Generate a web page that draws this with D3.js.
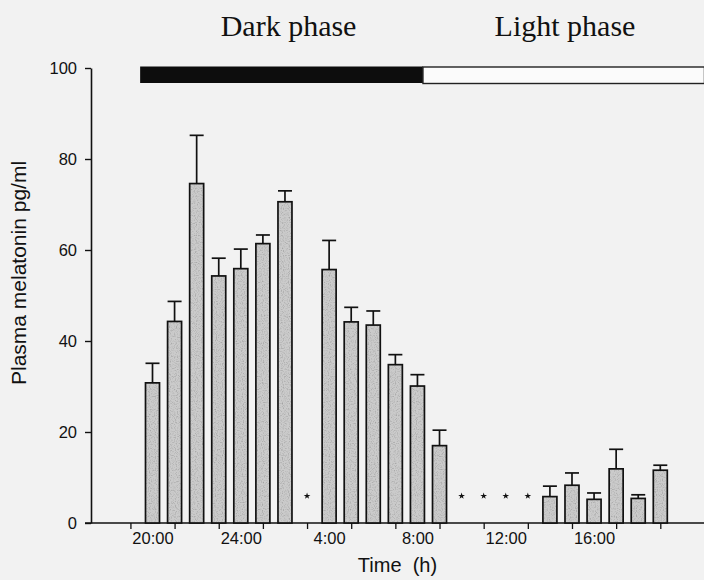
<!DOCTYPE html>
<html>
<head>
<meta charset="utf-8">
<script src="https://cdn.jsdelivr.net/npm/d3@7"></script>
<style>
  html, body { margin: 0; padding: 0; background: #f2f2f2; }
  svg { display: block; }
</style>
</head>
<body>
<div id="chart"></div>
<script>
// Hourly sampling slots, 20:00 through 19:00 the next day
const hours = ["20:00","21:00","22:00","23:00","24:00","1:00","2:00","3:00",
               "4:00","5:00","6:00","7:00","8:00","9:00","10:00","11:00",
               "12:00","13:00","14:00","15:00","16:00","17:00","18:00","19:00"];

// Mean plasma melatonin (pg/ml) per slot; null = below detection (marked with *)
const melatonin = [30.8, 44.3, 74.6, 54.3, 55.9, 61.4, 70.6, null,
                   55.7, 44.2, 43.5, 34.8, 30.1, 17.0, null, null,
                   null, null, 5.8, 8.3, 5.2, 11.9, 5.4, 11.6];

// Standard error of the mean for each slot
const sem = [4.3, 4.4, 10.6, 3.9, 4.3, 1.9, 2.4, null,
             6.4, 3.2, 3.1, 2.2, 2.5, 3.4, null, null,
             null, null, 2.3, 2.7, 1.4, 4.3, 0.8, 1.1];

// Axis labelling
const yTicks = [0, 20, 40, 60, 80, 100];
const xTickSlots = [-1, 1, 3, 5, 7, 9, 11, 13, 15, 17, 19, 21, 23];
const xLabelSlots = [0, 4, 8, 12, 16, 20];
const xLabels = ["20:00", "24:00", "4:00", "8:00", "12:00", "16:00"];

// Light/dark schedule bar (in slot units)
const phases = ["Dark phase", "Light phase"];
const phaseStart = [-0.56, 12.25];
const phaseEnd = [12.25, 25];

const W = 704, H = 580;
const svg = d3.select("#chart").append("svg")
  .attr("width", W).attr("height", H)
  .style("font-family", "'Liberation Sans', Arial, Helvetica, sans-serif");

// Grain texture for the bar fill
const defs = svg.append("defs");
const f = defs.append("filter").attr("id", "grain")
  .attr("x", 0).attr("y", 0).attr("width", "100%").attr("height", "100%");
f.append("feTurbulence").attr("type", "fractalNoise").attr("baseFrequency", 0.85)
  .attr("numOctaves", 1).attr("seed", 4).attr("result", "noise");
f.append("feColorMatrix").attr("in", "noise").attr("type", "matrix")
  .attr("values", "0 0 0 0 0.2  0 0 0 0 0.2  0 0 0 0 0.2  1.6 0 0 0 -0.75")
  .attr("result", "dots");
f.append("feComposite").attr("in", "dots").attr("in2", "SourceGraphic")
  .attr("operator", "in").attr("result", "clipped");
const m = f.append("feMerge");
m.append("feMergeNode").attr("in", "SourceGraphic");
m.append("feMergeNode").attr("in", "clipped");

const x = d3.scaleLinear().domain([0, hours.length - 1]).range([152.5, 660.3]);
const y = d3.scaleLinear().domain([0, 100]).range([523, 68]);
const barW = 14;
const axisX = 91;
const ink = "#111";

// Y axis
const yAxis = svg.append("g")
  .attr("transform", `translate(${axisX},0)`)
  .call(d3.axisLeft(y).tickValues(yTicks).tickSize(6).tickSizeOuter(0).tickPadding(8));
yAxis.select(".domain").attr("stroke", ink).attr("stroke-width", 1.6);
yAxis.selectAll(".tick line").attr("stroke", ink).attr("stroke-width", 1.4);
yAxis.selectAll(".tick text").attr("font-size", 16.5).attr("fill", ink)
  .attr("font-family", "'Liberation Sans', Arial, sans-serif");

// X axis: tick marks every two hours, labels every four
const xTicks = svg.append("g")
  .attr("transform", `translate(0,${y(0)})`)
  .call(d3.axisBottom(x).tickValues(xTickSlots).tickSize(6).tickSizeOuter(0).tickFormat(""));
xTicks.select(".domain").remove();
xTicks.selectAll(".tick line").attr("stroke", ink).attr("stroke-width", 1.3);

const xLab = svg.append("g")
  .attr("transform", `translate(0,${y(0)})`)
  .call(d3.axisBottom(x).tickValues(xLabelSlots).tickSize(0).tickPadding(9)
    .tickFormat((d, i) => xLabels[i]));
xLab.select(".domain").remove();
xLab.selectAll(".tick text").attr("font-size", 16.5).attr("fill", ink)
  .attr("font-family", "'Liberation Sans', Arial, sans-serif");

svg.append("line")
  .attr("x1", axisX - 6).attr("x2", W).attr("y1", y(0)).attr("y2", y(0))
  .attr("stroke", ink).attr("stroke-width", 1.6);

// Bars
const data = hours.map((h, i) => ({ i, h, v: melatonin[i], e: sem[i] }));
const present = data.filter(d => d.v !== null);
const missing = data.filter(d => d.v === null);

svg.append("g").selectAll("rect").data(present).join("rect")
  .attr("x", d => x(d.i) - barW / 2)
  .attr("y", d => y(d.v))
  .attr("width", barW)
  .attr("height", d => y(0) - y(d.v))
  .attr("fill", "#cbcbcb")
  .attr("filter", "url(#grain)");

svg.append("g").selectAll("rect").data(present).join("rect")
  .attr("x", d => x(d.i) - barW / 2)
  .attr("y", d => y(d.v))
  .attr("width", barW)
  .attr("height", d => y(0) - y(d.v))
  .attr("fill", "none")
  .attr("stroke", ink)
  .attr("stroke-width", 1.7);

// Error bars (upper SEM)
const err = svg.append("g").attr("stroke", ink).attr("stroke-width", 1.7);
err.selectAll("line.v").data(present).join("line").attr("class", "v")
  .attr("x1", d => x(d.i)).attr("x2", d => x(d.i))
  .attr("y1", d => y(d.v)).attr("y2", d => y(d.v + d.e));
err.selectAll("line.c").data(present).join("line").attr("class", "c")
  .attr("x1", d => x(d.i) - barW / 2).attr("x2", d => x(d.i) + barW / 2)
  .attr("y1", d => y(d.v + d.e)).attr("y2", d => y(d.v + d.e));

// Undetectable samples
svg.append("g").selectAll("path").data(missing).join("path")
  .attr("transform", d => `translate(${x(d.i)},${y(0) - 27})`)
  .attr("d", d3.symbol(d3.symbolStar).size(14))
  .attr("fill", ink);

// Light/dark schedule bar and phase titles
const barTop = 66.5, barH = 16.5;
svg.append("rect")
  .attr("x", x(phaseStart[0])).attr("y", barTop)
  .attr("width", x(phaseEnd[0]) - x(phaseStart[0])).attr("height", barH)
  .attr("fill", "#0d0d0d");
svg.append("rect")
  .attr("x", x(phaseStart[1])).attr("y", barTop + 0.5)
  .attr("width", x(phaseEnd[1]) - x(phaseStart[1])).attr("height", barH)
  .attr("fill", "#fbfbfb").attr("stroke", "#222").attr("stroke-width", 1.4);

svg.append("g").selectAll("text").data(phases).join("text")
  .attr("x", (d, i) => i === 0 ? (x(phaseStart[i]) + x(phaseEnd[i])) / 2 + 7 : 565)
  .attr("y", 36)
  .attr("text-anchor", "middle")
  .attr("font-family", "'Liberation Serif', 'Times New Roman', Times, serif")
  .attr("font-size", 30)
  .attr("fill", ink)
  .text(d => d);

// Axis titles
svg.append("text")
  .attr("transform", "translate(26,273) rotate(-90)")
  .attr("text-anchor", "middle")
  .attr("font-size", 21).attr("fill", ink)
  .text("Plasma melatonin pg/ml");

svg.append("text")
  .attr("x", 397.5).attr("y", 572)
  .attr("text-anchor", "middle")
  .attr("font-size", 20).attr("fill", ink)
  .style("white-space", "pre")
  .text("Time  (h)");
</script>
</body>
</html>
